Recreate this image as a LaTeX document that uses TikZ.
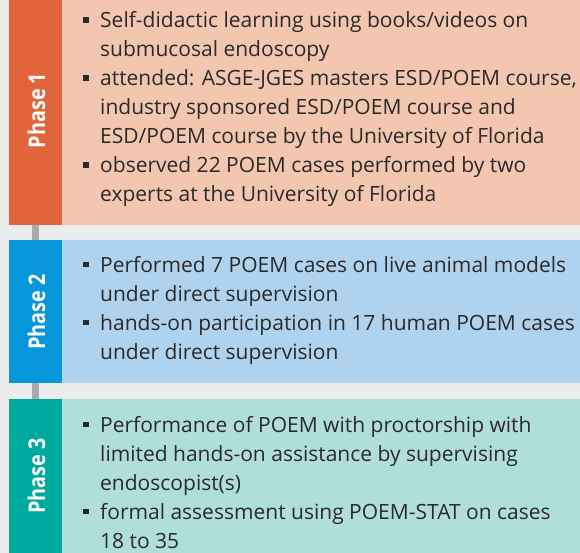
\documentclass[tikz,border=0pt]{standalone}
\usepackage{fontspec}
\setmainfont{Open Sans}
\definecolor{bgc}{HTML}{EBECEC}
\definecolor{conn}{HTML}{A8A9AB}
\definecolor{oneD}{HTML}{E0653A}
\definecolor{oneL}{HTML}{F3C6AF}
\definecolor{twoD}{HTML}{0796DA}
\definecolor{twoL}{HTML}{AFD3EF}
\definecolor{threeD}{HTML}{00A99D}
\definecolor{threeL}{HTML}{B0DEDB}
\definecolor{txt}{HTML}{2B2A29}
\newcommand\bl{\makebox[17pt][l]{\raisebox{5pt}{\rule{5.5pt}{5.5pt}}}}
\newcommand\ind{\hspace*{17pt}}
\newcommand\labtxt[1]{\scalebox{0.86}[1]{#1}}
\tikzset{
  x=1pt, y=-1pt,
  lab/.style={rotate=90, text=white, font=\fontsize{23}{26}\selectfont\bfseries, inner sep=0pt},
  body/.style={anchor=base west, inner sep=0pt, text=txt},
  link/.style={draw=conn, line width=7pt},
}
\begin{document}
\begin{tikzpicture}
\fill[bgc] (0,0) rectangle (580,553);
\useasboundingbox (0,0) rectangle (580,553);
% panels
\fill[oneL] (9,0) rectangle (580,225);
\fill[oneD] (9,0) rectangle (62,225);
\fill[twoL] (9,240) rectangle (580,383);
\fill[twoD] (9,240) rectangle (62,383);
\fill[threeL] (9,399) rectangle (580,553);
\fill[threeD] (9,399) rectangle (62,553);
% connector ends
\coordinate (c1s) at (35.5,225);
\coordinate (c2n) at (35.5,240);
\coordinate (c2s) at (35.5,383);
\coordinate (c3n) at (35.5,399);
\draw[link] (c1s) -- (c2n);
\draw[link] (c2s) -- (c3n);
% labels
\node[lab] (l1) at (36.5,110.5) {\labtxt{Phase 1}};
\node[lab] (l2) at (36.5,312) {\labtxt{Phase 2}};
\node[lab] (l3) at (36.5,476) {\labtxt{Phase 3}};
% texts
\node[body] (t1) at (83,28) {\parbox[t]{497pt}{\fontsize{21}{29}\selectfont
\bl Self-didactic learning using books/videos on\\
\ind submucosal endoscopy\\
\bl attended: ASGE-JGES masters ESD/POEM course,\\
\ind industry sponsored ESD/POEM course and\\
\ind ESD/POEM course by the University of Florida\\
\bl observed 22 POEM cases performed by two\\
\ind experts at the University of Florida}};
\node[body] (t2) at (83,272) {\parbox[t]{497pt}{\fontsize{21}{29}\selectfont
\bl Performed 7 POEM cases on live animal models\\
\ind under direct supervision\\
\bl hands-on participation in 17 human POEM cases\\
\ind under direct supervision}};
\node[body] (t3) at (83,432) {\parbox[t]{497pt}{\fontsize{21}{29}\selectfont
\bl Performance of POEM with proctorship with\\
\ind limited hands-on assistance by supervising\\
\ind endoscopist(s)\\
\bl formal assessment using POEM-STAT on cases\\
\ind 18 to 35}};
\end{tikzpicture}
\end{document}
